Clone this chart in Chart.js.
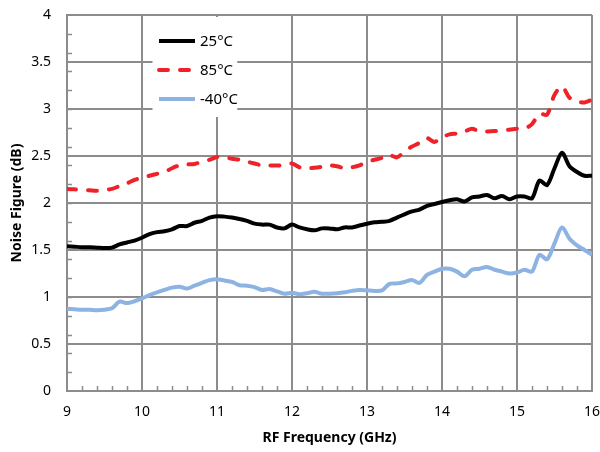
<!DOCTYPE html>
<html>
<head>
<meta charset="utf-8">
<script src="https://cdn.jsdelivr.net/npm/chart.js@4.4.1/dist/chart.umd.min.js"></script>
<style>
    html, body { margin: 0; padding: 0; background: #ffffff; }
    #nf-wrap { width: 600px; height: 452px; }
</style>
</head>
<body>
<div id="nf-wrap"><canvas id="nf-chart"></canvas></div>
<script>
// Noise figure vs RF frequency, three temperatures
const freqGHz = [
    9.0, 9.1, 9.2, 9.3, 9.4, 9.5, 9.6, 9.7, 9.8, 9.9,
    10.0, 10.1, 10.2, 10.3, 10.4, 10.5, 10.6, 10.7, 10.8, 10.9,
    11.0, 11.1, 11.2, 11.3, 11.4, 11.5, 11.6, 11.7, 11.8, 11.9,
    12.0, 12.1, 12.2, 12.3, 12.4, 12.5, 12.6, 12.7, 12.8, 12.9,
    13.0, 13.1, 13.2, 13.3, 13.4, 13.5, 13.6, 13.7, 13.8, 13.9,
    14.0, 14.1, 14.2, 14.3, 14.4, 14.5, 14.6, 14.7, 14.8, 14.9,
    15.0, 15.1, 15.2, 15.3, 15.4, 15.5, 15.6, 15.7, 15.8, 15.9,
    16.0
];

const nf25C = [
    1.54, 1.535, 1.53, 1.53, 1.525, 1.52, 1.525, 1.56, 1.58, 1.60,
    1.63, 1.67, 1.69, 1.70, 1.72, 1.755, 1.755, 1.79, 1.81, 1.845,
    1.86, 1.855, 1.845, 1.83, 1.81, 1.78, 1.77, 1.77, 1.74, 1.73,
    1.77, 1.74, 1.72, 1.71, 1.73, 1.73, 1.72, 1.74, 1.74, 1.76,
    1.78, 1.795, 1.80, 1.81, 1.845, 1.88, 1.91, 1.93, 1.97, 1.99,
    2.01, 2.03, 2.04, 2.015, 2.06, 2.07, 2.085, 2.05, 2.075, 2.04,
    2.07, 2.07, 2.05, 2.24, 2.19, 2.37, 2.535, 2.39, 2.33, 2.29,
    2.29
];

const nf85C = [
    2.15, 2.145, 2.14, 2.135, 2.13, 2.14, 2.15, 2.18, 2.21, 2.245,
    2.27, 2.29, 2.31, 2.33, 2.37, 2.40, 2.41, 2.415, 2.44, 2.46,
    2.49, 2.49, 2.47, 2.46, 2.44, 2.42, 2.40, 2.40, 2.40, 2.40,
    2.42, 2.38, 2.37, 2.375, 2.385, 2.40, 2.39, 2.37, 2.38, 2.40,
    2.44, 2.46, 2.48, 2.51, 2.485, 2.55, 2.60, 2.64, 2.69, 2.65,
    2.70, 2.73, 2.74, 2.76, 2.79, 2.76, 2.76, 2.765, 2.775, 2.78,
    2.79, 2.79, 2.84, 2.95, 2.94, 3.15, 3.24, 3.12, 3.08, 3.07,
    3.10
];

const nfMinus40C = [
    0.875, 0.87, 0.865, 0.865, 0.86, 0.865, 0.88, 0.95, 0.935, 0.955,
    0.985, 1.02, 1.05, 1.075, 1.10, 1.11, 1.09, 1.12, 1.15, 1.18,
    1.19, 1.175, 1.16, 1.125, 1.12, 1.105, 1.075, 1.085, 1.06, 1.035,
    1.045, 1.03, 1.04, 1.055, 1.035, 1.035, 1.04, 1.05, 1.065, 1.075,
    1.07, 1.065, 1.07, 1.14, 1.145, 1.16, 1.18, 1.15, 1.235, 1.27,
    1.30, 1.30, 1.27, 1.22, 1.29, 1.30, 1.32, 1.29, 1.27, 1.25,
    1.26, 1.29, 1.27, 1.45, 1.40, 1.57, 1.74, 1.62, 1.55, 1.50,
    1.45
];

const seriesLabels = ['25°C', '85°C', '-40°C'];

const GRID_COLOR = '#8c8c8c';
const FONT_FAMILY = "'Noto Sans', 'Open Sans', sans-serif";

function toPoints(values) {
    return values.map((v, i) => ({ x: freqGHz[i], y: v }));
}

// legend box inside the plot + minor tick marks along the axes
const nfDecorations = {
    id: 'nfDecorations',
    beforeDatasetsDraw(chart) {
        const ctx = chart.ctx;
        const area = chart.chartArea;
        const xs = chart.scales.x;
        const ys = chart.scales.y;

        ctx.save();

        // minor ticks every 0.2 on both axes
        ctx.strokeStyle = GRID_COLOR;
        ctx.lineWidth = 1.5;
        ctx.beginPath();
        for (let k = 1; k < 35; k++) {
            if (k % 5 === 0) continue;
            const px = Math.round(xs.getPixelForValue(9 + k * 0.2)) + 0.5;
            ctx.moveTo(px, area.bottom);
            ctx.lineTo(px, area.bottom - 5);
        }
        for (let k = 1; k < 20; k++) {
            const py = Math.round(ys.getPixelForValue(k * 0.2)) + 0.5;
            ctx.moveTo(area.left, py);
            ctx.lineTo(area.left + 5, py);
        }
        ctx.stroke();

        // legend
        const boxL = xs.getPixelForValue(10.14);
        const boxR = xs.getPixelForValue(11.27);
        ctx.fillStyle = '#ffffff';
        ctx.fillRect(boxL, area.top + 2, boxR - boxL, 100);

        const lineX0 = 159;
        const lineX1 = 195;
        const rowY = [area.top + 26, area.top + 55, area.top + 84];
        ctx.font = '15px ' + FONT_FAMILY;
        ctx.textBaseline = 'middle';
        ctx.textAlign = 'left';
        chart.data.datasets.forEach((ds, i) => {
            ctx.beginPath();
            ctx.strokeStyle = ds.borderColor;
            ctx.lineWidth = ds.borderWidth;
            ctx.lineCap = ds.borderDash ? 'round' : 'butt';
            ctx.setLineDash(ds.borderDash || []);
            ctx.moveTo(lineX0, rowY[i]);
            ctx.lineTo(lineX1, rowY[i]);
            ctx.stroke();
            ctx.setLineDash([]);
            ctx.fillStyle = '#000000';
            ctx.fillText(ds.label, lineX1 + 5, rowY[i] + 1);
        });

        ctx.restore();
    }
};

const chart = new Chart(document.getElementById('nf-chart'), {
    type: 'line',
    data: {
        datasets: [
            {
                label: seriesLabels[0],
                data: toPoints(nf25C),
                borderColor: '#000000',
                borderWidth: 4,
                pointRadius: 0,
                tension: 0.3,
                fill: false
            },
            {
                label: seriesLabels[1],
                data: toPoints(nf85C),
                borderColor: '#ee2229',
                borderWidth: 4,
                borderDash: [9, 12],
                borderCapStyle: 'round',
                pointRadius: 0,
                tension: 0.3,
                fill: false
            },
            {
                label: seriesLabels[2],
                data: toPoints(nfMinus40C),
                borderColor: '#8db3e2',
                borderWidth: 4,
                pointRadius: 0,
                tension: 0.3,
                fill: false
            }
        ]
    },
    options: {
        responsive: true,
        maintainAspectRatio: false,
        animation: false,
        layout: {
            padding: { top: 15, right: 8, left: 0, bottom: 0 }
        },
        plugins: {
            legend: { display: false },
            tooltip: { enabled: false }
        },
        scales: {
            x: {
                type: 'linear',
                min: 9,
                max: 16,
                afterFit: (scale) => {
                    scale.height = 61;
                    scale.paddingLeft = 0;
                    scale.paddingRight = 0;
                },
                grid: {
                    color: GRID_COLOR,
                    lineWidth: 2,
                    drawTicks: false
                },
                border: { color: GRID_COLOR, width: 2 },
                ticks: {
                    stepSize: 1,
                    padding: 13,
                    color: '#000000',
                    font: { family: FONT_FAMILY, size: 14 }
                },
                title: {
                    display: true,
                    text: 'RF Frequency (GHz)',
                    color: '#000000',
                    padding: { top: 0, bottom: 6 },
                    font: { family: FONT_FAMILY, size: 14, weight: 'bold' }
                }
            },
            y: {
                min: 0,
                max: 4,
                afterFit: (scale) => {
                    scale.width = 67;
                    scale.paddingTop = 0;
                    scale.paddingBottom = 0;
                },
                grid: {
                    color: GRID_COLOR,
                    lineWidth: 2,
                    drawTicks: false
                },
                border: { color: GRID_COLOR, width: 2 },
                ticks: {
                    stepSize: 0.5,
                    padding: 16,
                    color: '#000000',
                    font: { family: FONT_FAMILY, size: 14 },
                    callback: (value) => String(value)
                },
                title: {
                    display: true,
                    text: 'Noise Figure (dB)',
                    color: '#000000',
                    padding: { top: 9, bottom: 0 },
                    font: { family: FONT_FAMILY, size: 14, weight: 'bold' }
                }
            }
        }
    },
    plugins: [nfDecorations]
});
</script>
</body>
</html>
